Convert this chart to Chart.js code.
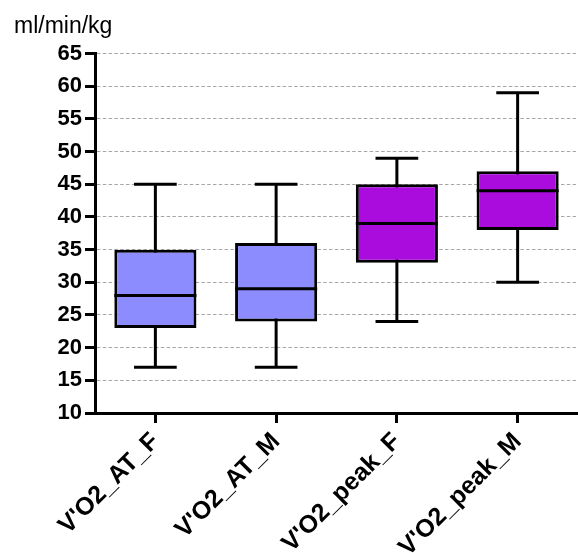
<!DOCTYPE html>
<html>
<head>
<meta charset="utf-8">
<script src="https://cdn.jsdelivr.net/npm/chart.js@4"></script>
<style>
    html, body { margin: 0; padding: 0; background: #ffffff; }
    #caixa { width: 578px; height: 553px; }
</style>
</head>
<body>
<div id="caixa"><canvas id="grafico_box"></canvas></div>
<script>
// --- Dados ---
const categorias = ["V'O2_AT_F", "V'O2_AT_M", "V'O2_peak_F", "V'O2_peak_M"];
const minimos = [17, 17, 24, 30];
const quartil1 = [23, 24, 33, 38];
const medianas = [28, 29, 39, 44];
const quartil3 = [35, 36, 45, 47];
const maximos = [45, 45, 49, 59];
const coresCaixa = ['#8c8cff', '#8c8cff', '#aa0cde', '#aa0cde'];
const unidade = 'ml/min/kg';

// --- Plugin para bigodes e medianas ---
const bigodesPlugin = {
    id: 'bigodes',
    beforeDatasetsDraw(chart) {
        const y = chart.scales.y;
        const meta = chart.getDatasetMeta(0);
        const c = chart.ctx;
        c.save();
        c.strokeStyle = '#000';
        c.lineWidth = 3;
        meta.data.forEach((bar, i) => {
            c.beginPath();
            c.moveTo(bar.x, y.getPixelForValue(minimos[i]));
            c.lineTo(bar.x, y.getPixelForValue(maximos[i]));
            c.stroke();
        });
        c.restore();
    },
    afterDatasetsDraw(chart) {
        const y = chart.scales.y;
        const meta = chart.getDatasetMeta(0);
        const c = chart.ctx;
        c.save();
        c.strokeStyle = '#000';
        c.lineWidth = 3;
        meta.data.forEach((bar, i) => {
            const meia = bar.width / 2;
            const capa = bar.width * 0.26;
            [minimos[i], maximos[i]].forEach(v => {
                const py = y.getPixelForValue(v);
                c.beginPath();
                c.moveTo(bar.x - capa, py);
                c.lineTo(bar.x + capa, py);
                c.stroke();
            });
            const pm = y.getPixelForValue(medianas[i]);
            c.beginPath();
            c.moveTo(bar.x - meia, pm);
            c.lineTo(bar.x + meia, pm);
            c.stroke();
        });
        c.restore();
    }
};

// --- Configuração do Gráfico ---
const ctx = document.getElementById('grafico_box');
const meuGrafico = new Chart(ctx, {
    type: 'bar',
    data: {
        labels: categorias,
        datasets: [{
            label: 'Caixa',
            data: quartil1.map((q, i) => [q, quartil3[i]]),
            backgroundColor: coresCaixa,
            borderColor: '#000',
            borderWidth: 3,
            borderSkipped: false,
            barPercentage: 0.68,
            categoryPercentage: 1
        }]
    },
    options: {
        responsive: true,
        maintainAspectRatio: false,
        animation: false,
        layout: {
            padding: { left: 14, right: 0, top: 0, bottom: 0 }
        },
        scales: {
            x: {
                offset: true,
                grid: {
                    offset: false,
                    drawOnChartArea: false,
                    drawTicks: true,
                    tickLength: 10,
                    tickWidth: 3,
                    tickColor: '#000'
                },
                border: { color: '#000', width: 3 },
                ticks: {
                    color: '#000',
                    maxRotation: 45,
                    minRotation: 45,
                    padding: 4,
                    font: { family: 'Liberation Sans', size: 25, weight: 'bold' }
                },
                afterFit: (s) => { s.height = 140; }
            },
            y: {
                min: 10,
                max: 65,
                grid: {
                    color: '#a6a6a6',
                    lineWidth: 1,
                    drawTicks: true,
                    tickLength: 10,
                    tickWidth: 3,
                    tickColor: '#000',
                    tickBorderDash: []
                },
                border: { color: '#000', width: 3, dash: [3.5, 2.3] },
                ticks: {
                    stepSize: 5,
                    color: '#000',
                    padding: 3,
                    font: { family: 'Liberation Sans', size: 22, weight: 'bold' }
                },
                afterFit: (s) => { s.width = 81; }
            }
        },
        plugins: {
            legend: { display: false },
            tooltip: { enabled: false },
            title: {
                display: true,
                text: unidade,
                align: 'start',
                color: '#000',
                padding: { top: 13, bottom: 13 },
                font: { family: 'Liberation Sans', size: 23, weight: 'normal' }
            }
        }
    },
    plugins: [bigodesPlugin]
});
</script>
</body>
</html>
